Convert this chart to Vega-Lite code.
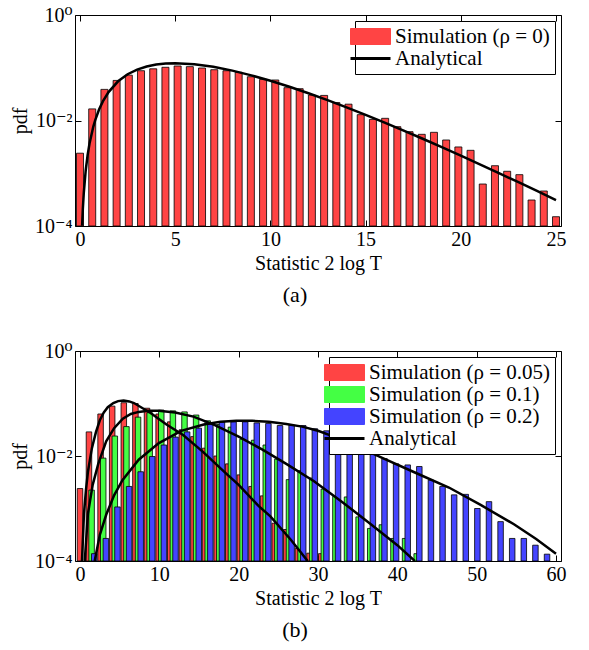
{
  "$schema": "https://vega.github.io/schema/vega-lite/v6.json",
  "background": "white",
  "padding": {"left": 9, "top": 4, "right": 5, "bottom": 5},
  "spacing": 125,
  "bounds": "flush",
  "resolve": {"scale": {"color": "independent"}, "legend": {"color": "independent"}},
  "config": {
    "font": "Liberation Serif, DejaVu Serif, serif",
    "view": {"stroke": "black", "strokeWidth": 1},
    "axis": {
      "grid": false, "domain": false, "ticks": true, "tickColor": "black", "tickSize": -6, "tickWidth": 1,
      "labelFont": "Liberation Serif, DejaVu Serif, serif", "labelFontSize": 20, "labelColor": "black", "labelPadding": 9,
      "titleFont": "Liberation Serif, DejaVu Serif, serif", "titleFontSize": 20, "titleFontWeight": "normal", "titleColor": "black", "titlePadding": 4
    },
    "legend": {"labelFont": "Liberation Serif, DejaVu Serif, serif"},
    "title": {"font": "Liberation Serif, DejaVu Serif, serif", "fontSize": 22, "fontWeight": "normal", "color": "black"}
  },
  "vconcat": [
    {
      "width": 486, "height": 211,
      "title": {"text": "(a)", "orient": "bottom", "dx": -23, "offset": 12},
      "layer": [
        {
          "data": {"values": [
            {"x": 0, "pdf": 0.0024}, {"x": 0.641, "pdf": 0.0166}, {"x": 1.282, "pdf": 0.0389}, {"x": 1.923, "pdf": 0.0575},
            {"x": 2.564, "pdf": 0.0724}, {"x": 3.205, "pdf": 0.0879}, {"x": 3.846, "pdf": 0.0955}, {"x": 4.487, "pdf": 0.102},
            {"x": 5.128, "pdf": 0.108}, {"x": 5.769, "pdf": 0.105}, {"x": 6.410, "pdf": 0.0989}, {"x": 7.051, "pdf": 0.0918},
            {"x": 7.692, "pdf": 0.0879}, {"x": 8.333, "pdf": 0.082}, {"x": 8.974, "pdf": 0.0676}, {"x": 9.615, "pdf": 0.0603},
            {"x": 10.256, "pdf": 0.0586}, {"x": 10.897, "pdf": 0.0419}, {"x": 11.538, "pdf": 0.0401}, {"x": 12.179, "pdf": 0.0304},
            {"x": 12.821, "pdf": 0.0299}, {"x": 13.462, "pdf": 0.0219}, {"x": 14.103, "pdf": 0.0204}, {"x": 14.744, "pdf": 0.0129},
            {"x": 15.385, "pdf": 0.0105}, {"x": 16.026, "pdf": 0.011}, {"x": 16.667, "pdf": 0.00764}, {"x": 17.308, "pdf": 0.00614},
            {"x": 17.949, "pdf": 0.00547}, {"x": 18.590, "pdf": 0.00597}, {"x": 19.231, "pdf": 0.00427}, {"x": 19.872, "pdf": 0.00315},
            {"x": 20.513, "pdf": 0.00272}, {"x": 21.154, "pdf": 0.000625}, {"x": 21.795, "pdf": 0.00139}, {"x": 22.436, "pdf": 0.00109},
            {"x": 23.077, "pdf": 0.00094}, {"x": 23.718, "pdf": 0.000311}, {"x": 24.359, "pdf": 0.000461}, {"x": 25.0, "pdf": 0.00015}
          ]},
          "mark": {"type": "bar", "size": 7, "stroke": "black", "strokeWidth": 0.8, "clip": true},
          "encoding": {
            "x": {"field": "x", "type": "quantitative", "scale": {"domain": [0, 25], "nice": false, "zero": false},
                  "axis": {"orient": "bottom", "values": [0, 5, 10, 15, 20, 25], "title": "Statistic 2 log T"}},
            "y": {"field": "pdf", "type": "quantitative", "stack": null, "scale": {"type": "log", "domain": [0.0001, 1], "nice": false},
                  "axis": {"orient": "left", "values": [0.0001, 0.01, 1], "title": "pdf",
                           "labelExpr": "datum.value > 0.5 ? '10⁰' : datum.value > 0.005 ? '10⁻²' : '10⁻⁴'"}},
            "y2": {"datum": 0.0001},
            "color": {"datum": "Simulation (ρ = 0)", "type": "nominal",
              "scale": {"domain": ["Simulation (ρ = 0)", "Analytical"], "range": ["#ff4444", "black"]},
              "legend": {
                "title": null, "orient": "top-right", "offset": 6,
                "strokeColor": "black", "fillColor": "white", "padding": 5,
                "labelFontSize": 21, "labelColor": "black", "labelLimit": 500,
                "symbolSize": 1600, "symbolStrokeWidth": 1, "symbolStrokeColor": "black", "symbolOpacity": 1,
                "rowPadding": 0, "labelOffset": 14,
                "encode": {"symbols": {"update": {
                  "shape": {"signal": "datum.value === 'Analytical' ? 'stroke' : 'M-1,-0.4H1V0.4H-1Z'"},
                  "strokeWidth": {"signal": "datum.value === 'Analytical' ? 3 : 1"},
                  "stroke": {"value": "black"}
                }}}
              }}
          }
        },
        {
          "data": {"values": [
            {"x": 0.11, "pdf": 0.000101}, {"x": 0.15, "pdf": 0.000215}, {"x": 0.2, "pdf": 0.000431}, {"x": 0.3, "pdf": 0.001128},
            {"x": 0.4, "pdf": 0.002204}, {"x": 0.5, "pdf": 0.00366}, {"x": 0.7, "pdf": 0.00768}, {"x": 0.8, "pdf": 0.0102},
            {"x": 1.0, "pdf": 0.01613}, {"x": 1.2, "pdf": 0.02302}, {"x": 1.5, "pdf": 0.03462}, {"x": 2.0, "pdf": 0.05535},
            {"x": 2.5, "pdf": 0.0753}, {"x": 3.0, "pdf": 0.0925}, {"x": 3.5, "pdf": 0.1059}, {"x": 4.0, "pdf": 0.1152},
            {"x": 4.5, "pdf": 0.1204}, {"x": 5.0, "pdf": 0.122}, {"x": 6.0, "pdf": 0.1168}, {"x": 7.0, "pdf": 0.1041},
            {"x": 8.0, "pdf": 0.08818}, {"x": 9.0, "pdf": 0.0718}, {"x": 10.0, "pdf": 0.05667}, {"x": 11.0, "pdf": 0.04362},
            {"x": 12.0, "pdf": 0.03289}, {"x": 13.0, "pdf": 0.02436}, {"x": 14.0, "pdf": 0.01779}, {"x": 15.0, "pdf": 0.01282},
            {"x": 16.0, "pdf": 0.009136}, {"x": 17.0, "pdf": 0.006449}, {"x": 18.0, "pdf": 0.004512}, {"x": 19.0, "pdf": 0.003133},
            {"x": 20.0, "pdf": 0.00216}, {"x": 21.0, "pdf": 0.00148}, {"x": 22.0, "pdf": 0.0010085}, {"x": 23.0, "pdf": 0.0006835},
            {"x": 24.0, "pdf": 0.0004611}, {"x": 25.0, "pdf": 0.0003097}
          ]},
          "mark": {"type": "line", "strokeWidth": 2.5, "clip": true},
          "encoding": {
            "x": {"field": "x", "type": "quantitative", "axis": {"orient": "top", "values": [0, 5, 10, 15, 20, 25], "labels": false, "title": null}},
            "y": {"field": "pdf", "type": "quantitative", "axis": {"orient": "right", "values": [0.0001, 0.01, 1], "labels": false, "title": null}},
            "color": {"datum": "Analytical", "type": "nominal"}
          }
        }
      ],
      "resolve": {"axis": {"x": "independent", "y": "independent"}}
    },
    {
      "width": 486, "height": 210,
      "title": {"text": "(b)", "orient": "bottom", "dx": -23, "offset": 12},
      "layer": [
        {
          "data": {"values": [
            {"s": "Simulation (ρ = 0.05)", "x": 0, "pdf": 0.0024},
            {"s": "Simulation (ρ = 0.05)", "x": 1.130, "pdf": 0.0288},
            {"s": "Simulation (ρ = 0.05)", "x": 2.594, "pdf": 0.0631},
            {"s": "Simulation (ρ = 0.05)", "x": 4.057, "pdf": 0.0891},
            {"s": "Simulation (ρ = 0.05)", "x": 5.521, "pdf": 0.1035},
            {"s": "Simulation (ρ = 0.05)", "x": 6.984, "pdf": 0.1},
            {"s": "Simulation (ρ = 0.05)", "x": 8.447, "pdf": 0.0813},
            {"s": "Simulation (ρ = 0.05)", "x": 9.911, "pdf": 0.0631},
            {"s": "Simulation (ρ = 0.05)", "x": 11.374, "pdf": 0.0447},
            {"s": "Simulation (ρ = 0.05)", "x": 12.838, "pdf": 0.0316},
            {"s": "Simulation (ρ = 0.05)", "x": 14.301, "pdf": 0.0234},
            {"s": "Simulation (ρ = 0.05)", "x": 15.765, "pdf": 0.0141},
            {"s": "Simulation (ρ = 0.05)", "x": 17.228, "pdf": 0.01},
            {"s": "Simulation (ρ = 0.05)", "x": 18.691, "pdf": 0.00708},
            {"s": "Simulation (ρ = 0.05)", "x": 20.155, "pdf": 0.00437},
            {"s": "Simulation (ρ = 0.05)", "x": 21.618, "pdf": 0.00263},
            {"s": "Simulation (ρ = 0.05)", "x": 23.082, "pdf": 0.00174},
            {"s": "Simulation (ρ = 0.05)", "x": 24.545, "pdf": 0.000525},
            {"s": "Simulation (ρ = 0.05)", "x": 26.008, "pdf": 0.000398},
            {"s": "Simulation (ρ = 0.05)", "x": 27.472, "pdf": 0.000174},
            {"s": "Simulation (ρ = 0.05)", "x": 28.935, "pdf": 0.000141},
            {"s": "Simulation (ρ = 0.05)", "x": 30.399, "pdf": 0.000138},
            {"s": "Simulation (ρ = 0.1)", "x": 1.463, "pdf": 0.00224},
            {"s": "Simulation (ρ = 0.1)", "x": 2.927, "pdf": 0.00912},
            {"s": "Simulation (ρ = 0.1)", "x": 4.390, "pdf": 0.024},
            {"s": "Simulation (ρ = 0.1)", "x": 5.854, "pdf": 0.0363},
            {"s": "Simulation (ρ = 0.1)", "x": 7.317, "pdf": 0.055},
            {"s": "Simulation (ρ = 0.1)", "x": 8.780, "pdf": 0.0668},
            {"s": "Simulation (ρ = 0.1)", "x": 10.244, "pdf": 0.075},
            {"s": "Simulation (ρ = 0.1)", "x": 11.707, "pdf": 0.0724},
            {"s": "Simulation (ρ = 0.1)", "x": 13.171, "pdf": 0.0692},
            {"s": "Simulation (ρ = 0.1)", "x": 14.634, "pdf": 0.0603},
            {"s": "Simulation (ρ = 0.1)", "x": 16.098, "pdf": 0.0468},
            {"s": "Simulation (ρ = 0.1)", "x": 17.561, "pdf": 0.0398},
            {"s": "Simulation (ρ = 0.1)", "x": 19.024, "pdf": 0.0355},
            {"s": "Simulation (ρ = 0.1)", "x": 20.488, "pdf": 0.0209},
            {"s": "Simulation (ρ = 0.1)", "x": 21.951, "pdf": 0.02},
            {"s": "Simulation (ρ = 0.1)", "x": 23.415, "pdf": 0.0162},
            {"s": "Simulation (ρ = 0.1)", "x": 24.878, "pdf": 0.00871},
            {"s": "Simulation (ρ = 0.1)", "x": 26.341, "pdf": 0.00355},
            {"s": "Simulation (ρ = 0.1)", "x": 27.805, "pdf": 0.00525},
            {"s": "Simulation (ρ = 0.1)", "x": 29.268, "pdf": 0.0038},
            {"s": "Simulation (ρ = 0.1)", "x": 30.732, "pdf": 0.00234},
            {"s": "Simulation (ρ = 0.1)", "x": 32.195, "pdf": 0.0017},
            {"s": "Simulation (ρ = 0.1)", "x": 33.659, "pdf": 0.00166},
            {"s": "Simulation (ρ = 0.1)", "x": 35.122, "pdf": 0.000692},
            {"s": "Simulation (ρ = 0.1)", "x": 36.585, "pdf": 0.000417},
            {"s": "Simulation (ρ = 0.1)", "x": 38.049, "pdf": 0.00049},
            {"s": "Simulation (ρ = 0.1)", "x": 39.512, "pdf": 0.000269},
            {"s": "Simulation (ρ = 0.1)", "x": 40.976, "pdf": 0.000269},
            {"s": "Simulation (ρ = 0.1)", "x": 42.439, "pdf": 0.000138},
            {"s": "Simulation (ρ = 0.2)", "x": 1.797, "pdf": 0.000138},
            {"s": "Simulation (ρ = 0.2)", "x": 3.260, "pdf": 0.000269},
            {"s": "Simulation (ρ = 0.2)", "x": 4.723, "pdf": 0.00107},
            {"s": "Simulation (ρ = 0.2)", "x": 6.187, "pdf": 0.00263},
            {"s": "Simulation (ρ = 0.2)", "x": 7.650, "pdf": 0.00501},
            {"s": "Simulation (ρ = 0.2)", "x": 9.113, "pdf": 0.00977},
            {"s": "Simulation (ρ = 0.2)", "x": 10.577, "pdf": 0.0162},
            {"s": "Simulation (ρ = 0.2)", "x": 12.040, "pdf": 0.0229},
            {"s": "Simulation (ρ = 0.2)", "x": 13.504, "pdf": 0.0288},
            {"s": "Simulation (ρ = 0.2)", "x": 14.967, "pdf": 0.0339},
            {"s": "Simulation (ρ = 0.2)", "x": 16.431, "pdf": 0.0407},
            {"s": "Simulation (ρ = 0.2)", "x": 17.894, "pdf": 0.0442},
            {"s": "Simulation (ρ = 0.2)", "x": 19.357, "pdf": 0.0447},
            {"s": "Simulation (ρ = 0.2)", "x": 20.821, "pdf": 0.0447},
            {"s": "Simulation (ρ = 0.2)", "x": 22.284, "pdf": 0.0427},
            {"s": "Simulation (ρ = 0.2)", "x": 23.748, "pdf": 0.0417},
            {"s": "Simulation (ρ = 0.2)", "x": 25.211, "pdf": 0.038},
            {"s": "Simulation (ρ = 0.2)", "x": 26.674, "pdf": 0.0389},
            {"s": "Simulation (ρ = 0.2)", "x": 28.138, "pdf": 0.038},
            {"s": "Simulation (ρ = 0.2)", "x": 29.601, "pdf": 0.0331},
            {"s": "Simulation (ρ = 0.2)", "x": 31.065, "pdf": 0.0302},
            {"s": "Simulation (ρ = 0.2)", "x": 32.528, "pdf": 0.024},
            {"s": "Simulation (ρ = 0.2)", "x": 33.992, "pdf": 0.0191},
            {"s": "Simulation (ρ = 0.2)", "x": 35.455, "pdf": 0.0132},
            {"s": "Simulation (ρ = 0.2)", "x": 36.918, "pdf": 0.0117},
            {"s": "Simulation (ρ = 0.2)", "x": 38.382, "pdf": 0.00891},
            {"s": "Simulation (ρ = 0.2)", "x": 39.845, "pdf": 0.00708},
            {"s": "Simulation (ρ = 0.2)", "x": 41.309, "pdf": 0.00676},
            {"s": "Simulation (ρ = 0.2)", "x": 42.772, "pdf": 0.00631},
            {"s": "Simulation (ρ = 0.2)", "x": 44.235, "pdf": 0.00347},
            {"s": "Simulation (ρ = 0.2)", "x": 45.699, "pdf": 0.00263},
            {"s": "Simulation (ρ = 0.2)", "x": 47.162, "pdf": 0.00182},
            {"s": "Simulation (ρ = 0.2)", "x": 48.626, "pdf": 0.00186},
            {"s": "Simulation (ρ = 0.2)", "x": 50.089, "pdf": 0.001},
            {"s": "Simulation (ρ = 0.2)", "x": 51.553, "pdf": 0.00135},
            {"s": "Simulation (ρ = 0.2)", "x": 53.016, "pdf": 0.000562},
            {"s": "Simulation (ρ = 0.2)", "x": 54.479, "pdf": 0.000269},
            {"s": "Simulation (ρ = 0.2)", "x": 55.943, "pdf": 0.000269},
            {"s": "Simulation (ρ = 0.2)", "x": 57.406, "pdf": 0.0002},
            {"s": "Simulation (ρ = 0.2)", "x": 58.870, "pdf": 0.000135}
          ]},
          "mark": {"type": "bar", "size": 5.5, "stroke": "black", "strokeWidth": 0.8, "clip": true},
          "encoding": {
            "x": {"field": "x", "type": "quantitative", "scale": {"domain": [0, 60], "nice": false, "zero": false},
                  "axis": {"orient": "bottom", "values": [0, 10, 20, 30, 40, 50, 60], "title": "Statistic 2 log T"}},
            "y": {"field": "pdf", "type": "quantitative", "stack": null, "scale": {"type": "log", "domain": [0.0001, 1], "nice": false},
                  "axis": {"orient": "left", "values": [0.0001, 0.01, 1], "title": "pdf",
                           "labelExpr": "datum.value > 0.5 ? '10⁰' : datum.value > 0.005 ? '10⁻²' : '10⁻⁴'"}},
            "y2": {"datum": 0.0001},
            "color": {"field": "s", "type": "nominal",
              "scale": {"domain": ["Simulation (ρ = 0.05)", "Simulation (ρ = 0.1)", "Simulation (ρ = 0.2)", "Analytical"], "range": ["#ff4444", "#44ff44", "#4444ff", "black"]},
              "legend": {
                "title": null, "orient": "top-right", "offset": 6,
                "strokeColor": "black", "fillColor": "white", "padding": 5,
                "labelFontSize": 21, "labelColor": "black", "labelLimit": 500,
                "symbolSize": 1600, "symbolStrokeWidth": 1, "symbolStrokeColor": "black", "symbolOpacity": 1,
                "rowPadding": 0, "labelOffset": 14,
                "encode": {"symbols": {"update": {
                  "shape": {"signal": "datum.value === 'Analytical' ? 'stroke' : 'M-1,-0.4H1V0.4H-1Z'"},
                  "strokeWidth": {"signal": "datum.value === 'Analytical' ? 3 : 1"},
                  "stroke": {"value": "black"}
                }}}
              }}
          }
        },
        {
          "data": {"values": [
            {"c": "a", "x": 0.25, "pdf": 0.0001}, {"c": "a", "x": 0.5, "pdf": 0.000794}, {"c": "a", "x": 0.75, "pdf": 0.00224},
            {"c": "a", "x": 1.0, "pdf": 0.00501}, {"c": "a", "x": 1.5, "pdf": 0.0141}, {"c": "a", "x": 2.0, "pdf": 0.0282},
            {"c": "a", "x": 2.5, "pdf": 0.0479}, {"c": "a", "x": 3.0, "pdf": 0.0676}, {"c": "a", "x": 3.5, "pdf": 0.0851},
            {"c": "a", "x": 4.2, "pdf": 0.102}, {"c": "a", "x": 4.8, "pdf": 0.111}, {"c": "a", "x": 5.5, "pdf": 0.1135},
            {"c": "a", "x": 6.2, "pdf": 0.1096}, {"c": "a", "x": 6.8, "pdf": 0.102}, {"c": "a", "x": 8.9, "pdf": 0.0661},
            {"c": "a", "x": 10.9, "pdf": 0.0398}, {"c": "a", "x": 13.0, "pdf": 0.0251}, {"c": "a", "x": 15.5, "pdf": 0.012},
            {"c": "a", "x": 18.4, "pdf": 0.00468}, {"c": "a", "x": 20.0, "pdf": 0.00282}, {"c": "a", "x": 22.5, "pdf": 0.00112},
            {"c": "a", "x": 24.0, "pdf": 0.000708}, {"c": "a", "x": 26.6, "pdf": 0.000251}, {"c": "a", "x": 28.7, "pdf": 0.0001},
            {"c": "b", "x": 0.6, "pdf": 0.0001}, {"c": "b", "x": 1.0, "pdf": 0.000794}, {"c": "b", "x": 1.6, "pdf": 0.00282},
            {"c": "b", "x": 2.3, "pdf": 0.00708}, {"c": "b", "x": 3.3, "pdf": 0.0191}, {"c": "b", "x": 4.3, "pdf": 0.0339},
            {"c": "b", "x": 5.4, "pdf": 0.0513}, {"c": "b", "x": 6.4, "pdf": 0.0631}, {"c": "b", "x": 7.4, "pdf": 0.0692},
            {"c": "b", "x": 8.6, "pdf": 0.0724}, {"c": "b", "x": 9.9, "pdf": 0.0724}, {"c": "b", "x": 12.0, "pdf": 0.0676},
            {"c": "b", "x": 14.3, "pdf": 0.0562}, {"c": "b", "x": 17.0, "pdf": 0.0389}, {"c": "b", "x": 20.0, "pdf": 0.0234},
            {"c": "b", "x": 23.0, "pdf": 0.0132}, {"c": "b", "x": 26.0, "pdf": 0.00708}, {"c": "b", "x": 29.5, "pdf": 0.00331},
            {"c": "b", "x": 33.0, "pdf": 0.00135}, {"c": "b", "x": 36.5, "pdf": 0.000525}, {"c": "b", "x": 40.0, "pdf": 0.0002},
            {"c": "b", "x": 42.2, "pdf": 0.0001},
            {"c": "c", "x": 1.85, "pdf": 0.0001}, {"c": "c", "x": 2.5, "pdf": 0.000316}, {"c": "c", "x": 3.3, "pdf": 0.000759},
            {"c": "c", "x": 4.3, "pdf": 0.00178}, {"c": "c", "x": 5.35, "pdf": 0.00347}, {"c": "c", "x": 7.4, "pdf": 0.00851},
            {"c": "c", "x": 9.9, "pdf": 0.0174}, {"c": "c", "x": 12.75, "pdf": 0.0302}, {"c": "c", "x": 15.6, "pdf": 0.0398},
            {"c": "c", "x": 17.7, "pdf": 0.0447}, {"c": "c", "x": 19.7, "pdf": 0.0468}, {"c": "c", "x": 21.7, "pdf": 0.0468},
            {"c": "c", "x": 23.8, "pdf": 0.0447}, {"c": "c", "x": 26.0, "pdf": 0.0407}, {"c": "c", "x": 28.0, "pdf": 0.0363},
            {"c": "c", "x": 30.0, "pdf": 0.0302}, {"c": "c", "x": 32.5, "pdf": 0.0219}, {"c": "c", "x": 35.0, "pdf": 0.0151},
            {"c": "c", "x": 38.3, "pdf": 0.00891}, {"c": "c", "x": 42.0, "pdf": 0.00501}, {"c": "c", "x": 46.5, "pdf": 0.00251},
            {"c": "c", "x": 50.5, "pdf": 0.00117}, {"c": "c", "x": 54.7, "pdf": 0.000501}, {"c": "c", "x": 57.5, "pdf": 0.000263},
            {"c": "c", "x": 60.0, "pdf": 0.000138}
          ]},
          "mark": {"type": "line", "strokeWidth": 2.5, "clip": true},
          "encoding": {
            "x": {"field": "x", "type": "quantitative", "axis": {"orient": "top", "values": [0, 10, 20, 30, 40, 50, 60], "labels": false, "title": null}},
            "y": {"field": "pdf", "type": "quantitative", "axis": {"orient": "right", "values": [0.0001, 0.01, 1], "labels": false, "title": null}},
            "detail": {"field": "c", "type": "nominal"},
            "color": {"datum": "Analytical", "type": "nominal"}
          }
        }
      ],
      "resolve": {"axis": {"x": "independent", "y": "independent"}}
    }
  ]
}
